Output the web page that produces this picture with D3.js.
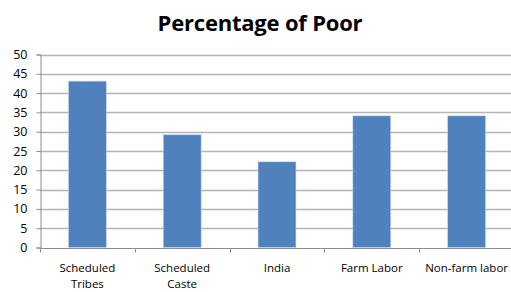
<!DOCTYPE html>
<html>
<head>
<meta charset="utf-8">
<script src="https://cdn.jsdelivr.net/npm/d3@7"></script>
<style>
  body { margin: 0; background: #fff; }
  svg { display: block; }
  text { font-family: "Open Sans", Lato, sans-serif; }
</style>
</head>
<body>
<div id="chart"></div>
<script>
var width = 511;
var height = 292;

// data
var categories = ["Scheduled Tribes", "Scheduled Caste", "India", "Farm Labor", "Non-farm labor"];
var labelLines = [["Scheduled", "Tribes"], ["Scheduled", "Caste"], ["India"], ["Farm Labor"], ["Non-farm labor"]];
var poorPct = [43.1, 29.2, 22.2, 34.1, 34.1];
var yTicks = [0, 5, 10, 15, 20, 25, 30, 35, 40, 45, 50];

var margin = {left: 40, right: -3, top: 54.5, bottom: 44.5};

var svg = d3.select("#chart").append("svg")
    .attr("width", width)
    .attr("height", height);

var x = d3.scaleBand()
    .domain(categories)
    .range([margin.left, width - margin.right])
    .padding(0);

var y = d3.scaleLinear()
    .domain([0, 50])
    .range([height - margin.bottom, margin.top]);

// title
svg.append("text")
    .attr("x", 260)
    .attr("y", 31)
    .attr("text-anchor", "middle")
    .style("font-weight", "bold")
    .style("font-size", "22px")
    .style("letter-spacing", "-0.2px")
    .text("Percentage of Poor");

// gridlines
svg.append("g")
    .selectAll("line")
    .data(yTicks.filter(d => d > 0))
    .enter().append("line")
    .attr("x1", margin.left)
    .attr("x2", width)
    .attr("y1", d => Math.round(y(d)) + 0.5)
    .attr("y2", d => Math.round(y(d)) + 0.5)
    .style("stroke", "#b4b4b4")
    .style("stroke-width", 1.5);

// bars
var bw = x.bandwidth();
svg.append("g")
    .selectAll("rect")
    .data(poorPct)
    .enter().append("rect")
    .attr("x", (d, i) => x(categories[i]) + bw * 0.3)
    .attr("width", bw * 0.4)
    .attr("y", d => y(d))
    .attr("height", d => y(0) - y(d))
    .style("fill", "#4f81bd")
    .style("stroke", "#c6d7ef")
    .style("stroke-width", 0.6);

// y axis
var yAxis = svg.append("g")
    .attr("transform", "translate(" + (margin.left + 0.5) + ",0)")
    .call(d3.axisLeft(y).tickValues(yTicks).tickSize(4).tickPadding(9));
yAxis.select(".domain").style("stroke", "#8c8c8c");
yAxis.selectAll(".tick line").style("stroke", "#8c8c8c");
yAxis.selectAll(".tick text")
    .style("font-size", "12.5px")
    .style("fill", "#000");

// x axis
var xAxis = svg.append("g")
    .attr("transform", "translate(0," + (Math.round(y(0)) + 0.5) + ")");
xAxis.append("line")
    .attr("x1", margin.left)
    .attr("x2", width)
    .style("stroke", "#8c8c8c");
xAxis.selectAll(".xt")
    .data(categories.concat([null]))
    .enter().append("line")
    .attr("x1", (d, i) => Math.round(margin.left + i * bw) + 0.5)
    .attr("x2", (d, i) => Math.round(margin.left + i * bw) + 0.5)
    .attr("y1", 0)
    .attr("y2", 4)
    .style("stroke", "#8c8c8c");

var lbl = xAxis.selectAll(".xl")
    .data(categories)
    .enter().append("text")
    .attr("text-anchor", "middle")
    .style("font-size", "11.5px")
    .style("fill", "#000");
lbl.each(function(d, i) {
    var t = d3.select(this);
    labelLines[i].forEach(function(line, j) {
        t.append("tspan")
            .attr("x", x(d) + bw / 2)
            .attr("y", 23.5 + j * 15.8)
            .text(line);
    });
});
</script>
</body>
</html>
